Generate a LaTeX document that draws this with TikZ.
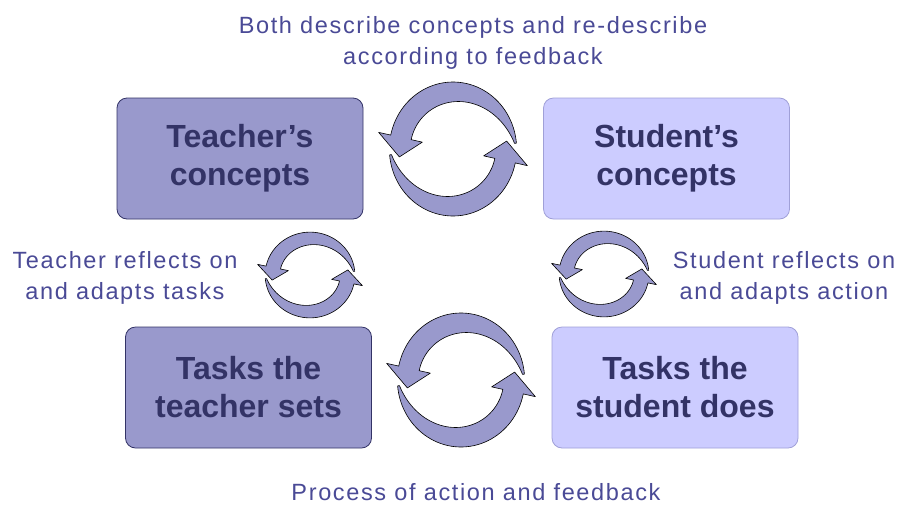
\documentclass[tikz,border=0pt]{standalone}
\usepackage{fontspec}
\setmainfont{Liberation Sans}
\newfontfamily\lblfont[LetterSpace=7]{Liberation Sans}
\definecolor{darkfill}{HTML}{9999CC}
\definecolor{lightfill}{HTML}{CCCCFF}
\definecolor{navy}{HTML}{333366}
\definecolor{lblcol}{HTML}{4A4A96}
\definecolor{lightborder}{HTML}{A0A0D8}
\tikzset{
  conceptbox/.style={rectangle, rounded corners=10pt, minimum width=246pt, minimum height=121pt,
    align=center, text=navy, font=\bfseries\fontsize{32}{38}\selectfont, inner sep=0pt},
  darkbox/.style={conceptbox, fill=darkfill, draw=navy, line width=0.8pt},
  lightbox/.style={conceptbox, fill=lightfill, draw=lightborder, line width=0.8pt},
  lbl/.style={align=center, text=lblcol, font=\lblfont\fontsize{23.5}{31}\selectfont, inner sep=0pt},
  cycfill/.style={fill=darkfill, draw=black, line width=0.6pt, line join=round},
}
\newcommand\halfcyc{%
  \path[cycfill] plot[domain=5:168, samples=50] ({67*cos(\x)},{67*sin(\x)})
    -- (168:80) -- (188:57) -- (168:33)
    -- plot[domain=168:5, samples=50]
       ({(65-20*(1-((168-\x)/163)^3))*cos(\x)},{(65-20*(1-((168-\x)/163)^3))*sin(\x)})
    -- cycle;}
\newcommand\cycarrow[4]{%
  \begin{scope}[shift={(#1,#2)}, xscale=#3, yscale=-#4]
    \halfcyc
    \begin{scope}[rotate=180]\halfcyc\end{scope}
  \end{scope}}
\begin{document}
\begin{tikzpicture}[x=1pt, y=-1pt]
  \fill[white] (0,0) rectangle (901,504);
  \useasboundingbox (0,0) rectangle (901,504);

  \node[darkbox]  (tc) at (240,158.5) {Teacher’s\\concepts};
  \node[lightbox] (sc) at (666.5,158.5) {Student’s\\concepts};
  \node[darkbox]  (tt) at (248.5,387.5) {Tasks the\\teacher sets};
  \node[lightbox] (ts) at (675,387.5) {Tasks the\\student does};

  \cycarrow{453}{149}{0.95}{1}
  \cycarrow{461}{380}{0.95}{1}
  \cycarrow{310}{275}{0.67}{0.64}
  \cycarrow{604}{274}{0.67}{0.64}

  \node[lbl] (top) at (473,42.5) {Both describe concepts and re-describe\\according to feedback};
  \node[lbl] (left) at (125,277.5) {Teacher reflects on\\and adapts tasks};
  \node[lbl] (right) at (784,278) {Student reflects on\\and adapts action};
  \node[lbl, anchor=base] (bottom) at (476,500) {Process of action and feedback};
\end{tikzpicture}
\end{document}
